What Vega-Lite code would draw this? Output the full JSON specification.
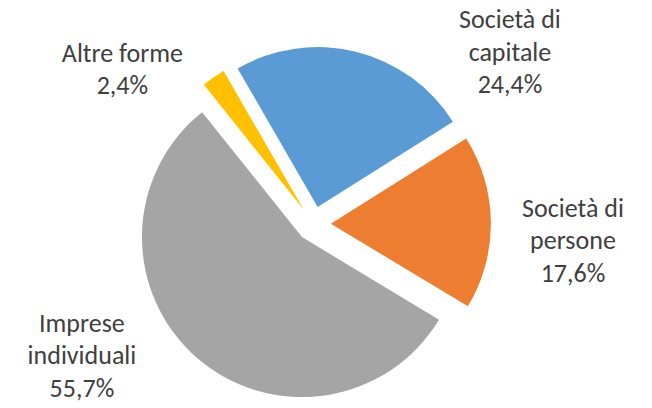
{
  "$schema": "https://vega.github.io/schema/vega-lite/v6.json",
  "width": 652,
  "height": 408,
  "padding": 0,
  "autosize": {"type": "none"},
  "background": "white",
  "config": {"view": {"stroke": null}},
  "data": {
    "values": [
      {"forma": "Società di capitale", "etichetta": "Società di\ncapitale\n24,4%", "quota": 24.4},
      {"forma": "Società di persone", "etichetta": "Società di\npersone\n17,6%", "quota": 17.6},
      {"forma": "Imprese individuali", "etichetta": "Imprese\nindividuali\n55,7%", "quota": 55.7},
      {"forma": "Altre forme", "etichetta": "Altre forme\n2,4%", "quota": 2.4}
    ]
  },
  "transform": [
    {"window": [{"op": "sum", "field": "quota", "as": "fine"}], "frame": [null, 0]},
    {"calculate": "datum.fine - datum.quota", "as": "inizio"},
    {"joinaggregate": [{"op": "sum", "field": "quota", "as": "totale"}]},
    {"calculate": "-PI/6 + 2*PI*(datum.inizio + datum.quota/2)/datum.totale", "as": "medio"},
    {"calculate": "0.109*sin(datum.medio)", "as": "cx"},
    {"calculate": "0.109*cos(datum.medio)", "as": "cy"},
    {"calculate": "datum.forma == 'Società di capitale' ? 45.07 : datum.forma == 'Società di persone' ? 88.38 : datum.forma == 'Imprese individuali' ? 245.06 : 310.34", "as": "angEt"},
    {"calculate": "datum.forma == 'Società di capitale' ? 1.7346 : datum.forma == 'Società di persone' ? 1.6227 : datum.forma == 'Imprese individuali' ? 1.5958 : 1.5664", "as": "rEt"},
    {"calculate": "datum.rEt*sin(datum.angEt*PI/180)", "as": "lx"},
    {"calculate": "datum.rEt*cos(datum.angEt*PI/180)", "as": "ly"}
  ],
  "layer": [
    {
      "mark": {"type": "arc", "radius": 160, "strokeWidth": 0},
      "encoding": {
        "x": {"field": "cx", "type": "quantitative", "scale": {"domain": [-1.959, 2.116], "nice": false, "zero": false}, "axis": null},
        "y": {"field": "cy", "type": "quantitative", "scale": {"domain": [-1.15, 1.4], "nice": false, "zero": false}, "axis": null},
        "theta": {"field": "inizio", "type": "quantitative", "stack": null, "scale": {"domain": [0, 100.1], "range": [-0.5236, 5.7596]}},
        "theta2": {"field": "fine"},
        "color": {
          "field": "forma",
          "type": "nominal",
          "scale": {
            "domain": ["Società di capitale", "Società di persone", "Imprese individuali", "Altre forme"],
            "range": ["#5B9BD5", "#ED7D31", "#A5A5A5", "#FFC000"]
          },
          "legend": null
        }
      }
    },
    {
      "mark": {"type": "text", "align": "center", "baseline": "alphabetic", "lineBreak": "\n", "font": "Carlito, Lato", "fontSize": 26, "lineHeight": 32.7, "color": "#404040"},
      "encoding": {
        "x": {"field": "lx", "type": "quantitative"},
        "y": {"field": "ly", "type": "quantitative"},
        "text": {"field": "etichetta"}
      }
    }
  ]
}
